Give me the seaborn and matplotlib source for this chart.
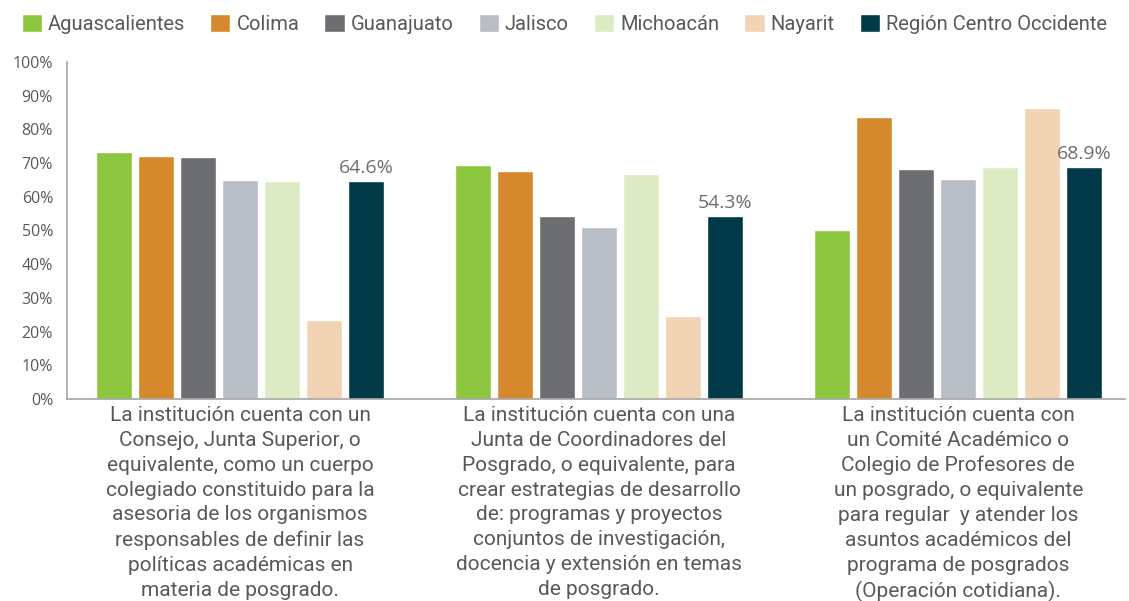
import matplotlib
matplotlib.use("Agg")
import matplotlib.pyplot as plt
import pandas as pd
import seaborn as sns
from matplotlib import font_manager
from matplotlib.ticker import FuncFormatter

# --- datos ---
preguntas = [
    "La institución cuenta con un\nConsejo, Junta Superior, o\nequivalente, como un cuerpo\n"
    "colegiado constituido para la\nasesoria de los organismos\nresponsables de definir las\n"
    "políticas académicas en\nmateria de posgrado.",
    "La institución cuenta con una\nJunta de Coordinadores del\nPosgrado, o equivalente, para\n"
    "crear estrategias de desarrollo\nde: programas y proyectos\nconjuntos de investigación,\n"
    "docencia y extensión en temas\nde posgrado.",
    "La institución cuenta con\nun Comité Académico o\nColegio de Profesores de\n"
    "un posgrado, o equivalente\npara regular  y atender los\nasuntos académicos del\n"
    "programa de posgrados\n(Operación cotidiana).",
]
estados = ["Aguascalientes", "Colima", "Guanajuato", "Jalisco", "Michoacán",
           "Nayarit", "Región Centro Occidente"]
aguascalientes = [73.4, 69.5, 50.0]
colima = [72.2, 67.5, 83.7]
guanajuato = [71.9, 54.4, 68.3]
jalisco = [65.1, 50.9, 65.4]
michoacan = [64.8, 66.9, 68.9]
nayarit = [23.4, 24.6, 86.4]
region = [64.6, 54.3, 68.9]
colores = ["#8DC63F", "#D6892C", "#6D6E71", "#B8BEC6", "#DCEBC3", "#F2D4B4", "#003A48"]

series = [aguascalientes, colima, guanajuato, jalisco, michoacan, nayarit, region]
df = pd.DataFrame([
    {"pregunta": p, "estado": e, "valor": v}
    for e, vals in zip(estados, series)
    for p, v in zip(preguntas, vals)
])

installed = {f.name for f in font_manager.fontManager.ttflist}
narrow = "Liberation Sans Narrow" if "Liberation Sans Narrow" in installed else "Roboto"
gris = "#595959"

sns.set_style("white")
plt.rcParams["font.family"] = ["Open Sans", "DejaVu Sans"]

fig = plt.figure(figsize=(11.29, 6.01), dpi=100)
ax = fig.add_axes([0.0593, 0.336, 0.937, 0.561])

sns.barplot(data=df, x="pregunta", y="valor", hue="estado", hue_order=estados,
            order=preguntas, palette=colores, width=0.82, gap=0.14,
            saturation=1, ax=ax)

ax.set_xlim(-0.482, 2.464)
ax.set_ylim(0, 100)
ax.set_yticks(range(0, 101, 10))
ax.yaxis.set_major_formatter(FuncFormatter(lambda v, _: f"{v:.0f}%"))
ax.set_xlabel("")
ax.set_ylabel("")
ax.tick_params(axis="y", length=0, labelsize=11.5, labelcolor=gris, pad=10)
ax.tick_params(axis="x", length=0, pad=5)
for lab in ax.get_xticklabels():
    lab.set_fontfamily(narrow)
    lab.set_fontsize(15)
    lab.set_color(gris)
    lab.set_linespacing(1.39)
    lab.set_verticalalignment("top")

for s in ["top", "right"]:
    ax.spines[s].set_visible(False)
for s in ["left", "bottom"]:
    ax.spines[s].set_color("#A6A6A6")
    ax.spines[s].set_linewidth(1.2)

# etiquetas de la región
cont_region = ax.containers[-1]
ax.bar_label(cont_region, labels=[f"{v:.1f}%" for v in region], padding=3,
             fontsize=14, color="#6D6E71")

sns.move_legend(ax, "upper left", bbox_to_anchor=(0.012, 0.99),
                bbox_transform=fig.transFigure, ncol=7, frameon=False,
                title=None, handlelength=1.0, handleheight=1.0,
                handletextpad=0.3, columnspacing=1.25, borderaxespad=0,
                prop={"family": narrow, "size": 14.5})
for t in ax.get_legend().get_texts():
    t.set_color(gris)

fig.savefig("out.png", dpi=100)
